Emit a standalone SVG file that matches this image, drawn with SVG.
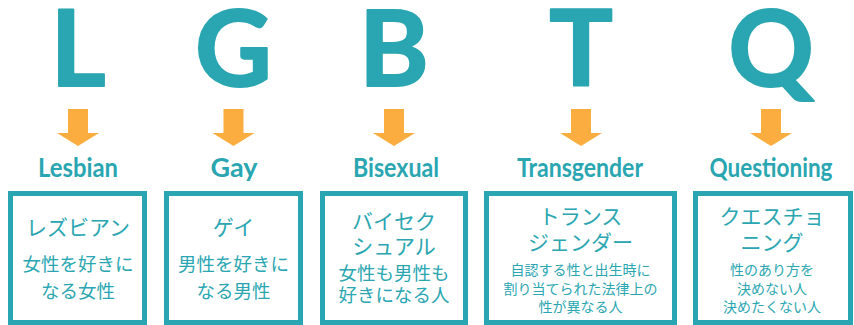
<svg xmlns="http://www.w3.org/2000/svg" width="854" height="325" viewBox="0 0 854 325">
<defs>
<style>
.big{font-family:Lato,"Open Sans",sans-serif;font-weight:700;font-size:106px;fill:#29a6b1;stroke:#29a6b1;stroke-width:2;stroke-linejoin:round;text-anchor:middle}
.sub{font-family:Lato,"Open Sans",sans-serif;font-weight:700;font-size:27px;fill:#29a6b1;text-anchor:middle}
.box{fill:#fff;stroke:#29a6b1;stroke-width:5}
.arrow{fill:#fbae3f}
.jl{font-family:"Noto Sans CJK JP",sans-serif;font-size:21px;fill:#29a6b1;text-anchor:middle}
.jm{font-family:"Noto Sans CJK JP",sans-serif;font-size:18.5px;fill:#29a6b1;text-anchor:middle}
.js{font-family:"Noto Sans CJK JP",sans-serif;font-size:14px;fill:#29a6b1;text-anchor:middle}
</style>
</defs>
<rect width="854" height="325" fill="#fff"/>
<g id="connectors">
<path class="arrow" d="M68 109H88V133H99L78 146L57 133H68Z"/>
<path class="arrow" d="M223.5 109H243.5V133H254.5L233.5 146L212.5 133H223.5Z"/>
<path class="arrow" d="M384 109H404V133H415L394 146L373 133H384Z"/>
<path class="arrow" d="M571 109H591V133H602L581 146L560 133H571Z"/>
<path class="arrow" d="M761 109H781V133H792L771 146L750 133H761Z"/>
</g>
<g id="L">
<text class="big" x="78" y="86">L</text>
<text class="sub" x="78" y="177" textLength="80" lengthAdjust="spacingAndGlyphs">Lesbian</text>
<rect class="box" x="10.5" y="193.5" width="134" height="129"/>
<text class="jl" x="78" y="234.5">レズビアン</text>
<text class="jm" x="78" y="271">女性を好きに</text>
<text class="jm" x="78" y="298">なる女性</text>
</g>
<g id="G">
<text class="big" x="233.5" y="86">G</text>
<text class="sub" x="234" y="177" textLength="47" lengthAdjust="spacingAndGlyphs">Gay</text>
<rect class="box" x="166.5" y="193.5" width="134" height="129"/>
<text class="jl" x="233.5" y="234.5">ゲイ</text>
<text class="jm" x="233.5" y="271">男性を好きに</text>
<text class="jm" x="233.5" y="298">なる男性</text>
</g>
<g id="B">
<text class="big" x="394" y="86">B</text>
<text class="sub" x="396" y="177" textLength="86" lengthAdjust="spacingAndGlyphs">Bisexual</text>
<rect class="box" x="322.5" y="193.5" width="143" height="129"/>
<text class="jl" x="394" y="229">バイセク</text>
<text class="jl" x="394" y="254">シュアル</text>
<text class="jm" x="394" y="280">女性も男性も</text>
<text class="jm" x="394" y="302">好きになる人</text>
</g>
<g id="T">
<text class="big" x="581" y="86">T</text>
<text class="sub" x="580" y="177" textLength="126" lengthAdjust="spacingAndGlyphs">Transgender</text>
<rect class="box" x="486.5" y="193.5" width="188" height="129"/>
<text class="jl" x="580.5" y="224">トランス</text>
<text class="jl" x="580.5" y="250">ジェンダー</text>
<text class="js" x="580.5" y="275.3">自認する性と出生時に</text>
<text class="js" x="580.5" y="293.8">割り当てられた法律上の</text>
<text class="js" x="580.5" y="311.8">性が異なる人</text>
</g>
<g id="Q">
<text class="big" x="771" y="86">Q</text>
<text class="sub" x="771" y="177" textLength="123" lengthAdjust="spacingAndGlyphs">Questioning</text>
<rect class="box" x="695.5" y="193.5" width="155" height="129"/>
<text class="jl" x="772" y="224">クエスチョ</text>
<text class="jl" x="772" y="250">ニング</text>
<text class="js" x="772" y="275.3">性のあり方を</text>
<text class="js" x="772" y="293.8">決めない人</text>
<text class="js" x="772" y="311.8">決めたくない人</text>
</g>
</svg>
